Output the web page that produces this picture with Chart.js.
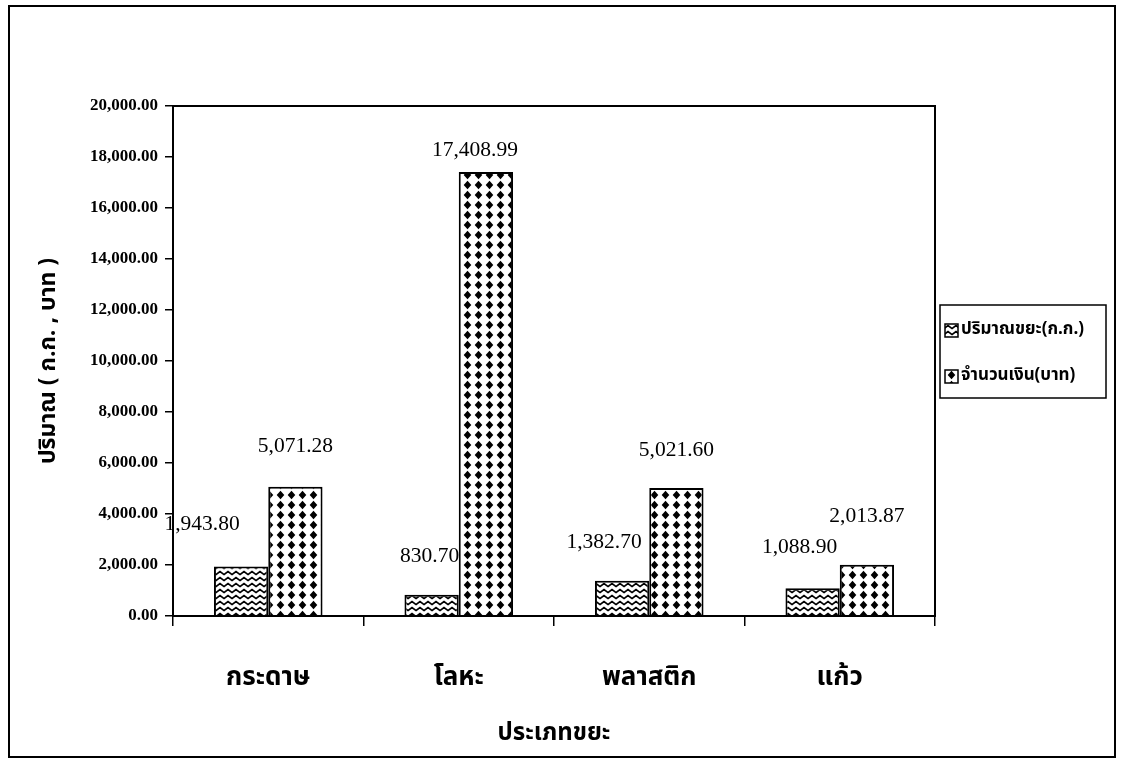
<!DOCTYPE html>
<html><head><meta charset="utf-8">
<script src="https://cdn.jsdelivr.net/npm/chart.js@4.4.1/dist/chart.umd.min.js"></script>
<style>html,body{margin:0;padding:0;background:#fff;}#wrap{width:1122px;height:763px;}</style>
</head><body><div id="wrap"><canvas id="c" width="1122" height="763"></canvas></div>
<script>
// ---- data ----
const categories = ['กระดาษ', 'โลหะ', 'พลาสติก', 'แก้ว'];
const seriesNames = ['ปริมาณขยะ(ก.ก.)', 'จำนวนเงิน(บาท)'];
const wasteKg = [1943.80, 830.70, 1382.70, 1088.90];
const moneyBaht = [5071.28, 17408.99, 5021.60, 2013.87];
const yTickValues = [0, 2000, 4000, 6000, 8000, 10000, 12000, 14000, 16000, 18000, 20000];
const yTitle = 'ปริมาณ ( ก.ก. , บาท )';
const xTitle = 'ประเภทขยะ';

// ---- style ----
const THAI = "'Noto Sans Thai','Loma','Garuda','Norasi','Tlwg Typo','DejaVu Sans',sans-serif";
const SERIF = "'Liberation Serif','Times New Roman',serif";
const labelShift = [[-39, -2, -18, -13], [0, -11, 0, 0]];
const labelLift = [[-42, -38, -38, -41], [-40, -22, -38, -48]];

const fmt = v => v.toLocaleString('en-US', {minimumFractionDigits: 2, maximumFractionDigits: 2});

const canvas = document.getElementById('c');
const ctx = canvas.getContext('2d');

function zigzag() {
  const c = document.createElement('canvas'); c.width = 8; c.height = 6;
  const g = c.getContext('2d');
  g.fillStyle = '#fff'; g.fillRect(0, 0, 8, 6);
  g.strokeStyle = '#000'; g.lineWidth = 1.7;
  g.beginPath(); g.moveTo(-2, 5.5); g.lineTo(0, 4.5); g.lineTo(4, 1.5); g.lineTo(8, 4.5); g.lineTo(10, 3); g.stroke();
  return ctx.createPattern(c, 'repeat');
}
function diamonds() {
  const c = document.createElement('canvas'); c.width = 11; c.height = 10;
  const g = c.getContext('2d');
  g.fillStyle = '#fff'; g.fillRect(0, 0, 11, 10);
  g.fillStyle = '#000';
  g.beginPath(); g.moveTo(5.5, 0.8); g.lineTo(9.3, 5); g.lineTo(5.5, 9.2); g.lineTo(1.7, 5); g.closePath(); g.fill();
  return ctx.createPattern(c, 'repeat');
}
const patterns = [zigzag(), diamonds()];

const decor = {
  id: 'decor',
  beforeDraw(chart) {
    const c = chart.ctx;
    c.save();
    c.fillStyle = '#fff'; c.fillRect(0, 0, chart.width, chart.height);
    c.strokeStyle = '#000'; c.lineWidth = 2;
    c.strokeRect(9, 6, 1106, 751);
    c.restore();
  },
  afterDatasetsDraw(chart) {
    const c = chart.ctx, ca = chart.chartArea;
    c.save();
    c.strokeStyle = '#000'; c.lineWidth = 2;
    c.strokeRect(ca.left, ca.top, ca.right - ca.left, ca.bottom - ca.top);
    // data labels
    c.fillStyle = '#000';
    c.font = "21.5px " + SERIF;
    c.textAlign = 'center'; c.textBaseline = 'middle';
    chart.data.datasets.forEach((ds, di) => {
      chart.getDatasetMeta(di).data.forEach((bar, i) => {
        c.fillText(fmt(ds.data[i]), bar.x + labelShift[di][i], bar.y + labelLift[di][i]);
      });
    });
    // legend
    const lx = 940, ly = 305, lw = 166, lh = 93;
    c.lineWidth = 1.5;
    c.strokeRect(lx, ly, lw, lh);
    c.font = "bold 17px " + THAI;
    c.textAlign = 'left';
    chart.data.datasets.forEach((ds, di) => {
      const y = ly + 26 + di * 46;
      c.fillStyle = patterns[di];
      c.fillRect(lx + 5, y - 7, 13, 13);
      c.lineWidth = 1.5; c.strokeStyle = '#000';
      c.strokeRect(lx + 5, y - 7, 13, 13);
      c.fillStyle = '#000';
      c.fillText(ds.label, lx + 21, y, lw - 24);
    });
    c.restore();
  }
};

new Chart(canvas, {
  type: 'bar',
  data: {
    labels: categories,
    datasets: [
      {label: seriesNames[0], data: wasteKg, backgroundColor: patterns[0], borderColor: '#000', borderWidth: 2,
       categoryPercentage: 0.57, barPercentage: 1.0},
      {label: seriesNames[1], data: moneyBaht, backgroundColor: patterns[1], borderColor: '#000', borderWidth: 2,
       categoryPercentage: 0.57, barPercentage: 1.0}
    ]
  },
  options: {
    responsive: false,
    animation: false,
    devicePixelRatio: 1,
    layout: {padding: {left: 20, top: 106, right: 187, bottom: 10}},
    plugins: {legend: {display: false}, tooltip: {enabled: false}},
    scales: {
      x: {
        grid: {display: true, drawOnChartArea: false, drawTicks: true, tickLength: 10, color: '#000', lineWidth: 1.5, offset: true},
        border: {display: true, color: '#000', width: 2},
        ticks: {color: '#000', font: {family: THAI, size: 26, weight: 'bold'}, padding: 38},
        title: {display: true, text: xTitle, color: '#000', font: {family: THAI, size: 24, weight: 'bold'}, padding: {top: 0, bottom: 3}},
        afterFit(s) { s.height = 137; }
      },
      y: {
        min: 0, max: 20000,
        afterBuildTicks(s) { s.ticks = yTickValues.map(v => ({value: v})); },
        grid: {display: true, drawOnChartArea: false, drawTicks: true, tickLength: 8, color: '#000', lineWidth: 1.5},
        border: {display: true, color: '#000', width: 2},
        ticks: {color: '#000', font: {family: SERIF, size: 17, weight: 'bold'}, padding: 7, callback: v => fmt(v)},
        title: {display: true, text: yTitle, color: '#000', font: {family: THAI, size: 23, weight: 'bold'}, padding: {top: 17, bottom: 0}},
        afterFit(s) { s.width = 153; }
      }
    }
  },
  plugins: [decor]
});
</script>
</body></html>
